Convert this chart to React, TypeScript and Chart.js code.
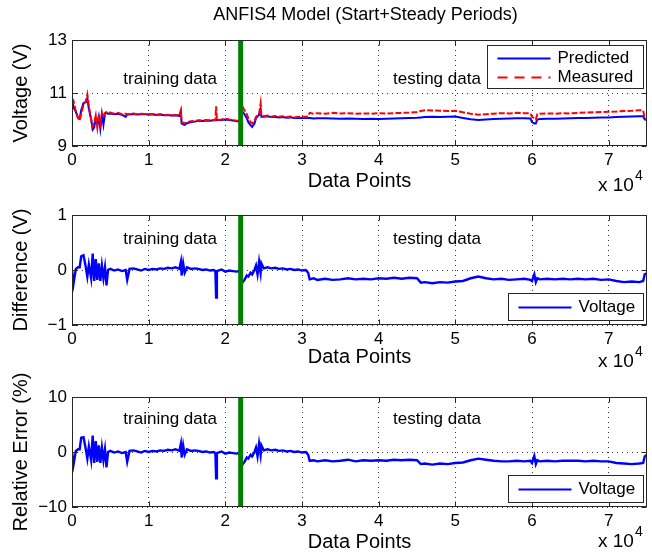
import React, { useEffect, useRef } from 'react';
import { Chart, registerables } from 'chart.js';

Chart.register(...registerables);

const FONT = '"Liberation Sans", Arial, Helvetica, sans-serif';
Chart.defaults.font.family = FONT;
Chart.defaults.color = '#000';

// ---------------- data (x in data points) ----------------
const X_POINTS = [
  0, 200, 500, 800, 1000, 1200, 1500, 1800, 2000, 2200,
  2500, 2700, 2900, 3100, 3300, 3500, 3700, 3900, 4100, 4300,
  4500, 4700, 5000, 5500, 6000, 6500, 7000, 7200, 7500, 8000,
  8500, 9000, 9500, 10000, 10500, 11000, 11500, 12000, 12500, 13000,
  13500, 14000, 14200, 14300, 14500, 14700, 15000, 15500, 16000, 16500,
  17000, 17500, 18000, 18500, 18700, 18800, 18900, 19500, 20000, 20500,
  21000, 21500, 21900,
  22100, 22500, 22800, 23000, 23300, 23500, 23800, 24000, 24200, 24400,
  24600, 24700, 25000, 25500, 26000, 26500, 27000, 27500, 28000, 28500,
  29000, 29500, 30000, 30500, 30800, 31000, 31500, 32000, 33000, 34000,
  35000, 36000, 37000, 38000, 39000, 40000, 41000, 42000, 43000, 44000,
  45000, 45500, 46000, 47000, 48000, 49000, 50000, 51000, 52000, 53000,
  54000, 55000, 56000, 57000, 58000, 59000, 59800, 60000, 60300, 60500,
  60700, 61000, 62000, 63000, 64000, 65000, 66000, 67000, 68000, 69000,
  70000, 71000, 72000, 73000, 74000, 74500, 74700, 75000,
];

const MEASURED_V = [
  10.80, 10.70, 10.30, 10.05, 9.98, 10.20, 10.55, 10.70, 10.95, 10.50,
  10.00, 9.75, 9.90, 10.15, 9.70, 10.20, 9.85, 10.25, 10.10, 10.25,
  10.28, 10.25, 10.26, 10.22, 10.25, 10.20, 10.22, 10.20, 10.21, 10.23,
  10.20, 10.22, 10.21, 10.20, 10.21, 10.18, 10.20, 10.17, 10.18, 10.16,
  10.17, 10.15, 10.35, 9.90, 9.88, 9.85, 9.90, 9.93, 9.95, 9.97,
  9.96, 9.98, 9.97, 9.98, 9.98, 10.50, 9.98, 10.00, 10.03, 10.00,
  9.98, 9.95, 9.95,
  10.55, 10.35, 10.20, 10.05, 9.90, 9.85, 9.95, 10.10, 10.15, 10.20,
  10.60, 10.15, 10.12, 10.15, 10.10, 10.13, 10.10, 10.12, 10.09, 10.11,
  10.08, 10.10, 10.09, 10.10, 10.12, 10.25, 10.22, 10.24, 10.22, 10.25,
  10.23, 10.24, 10.22, 10.23, 10.22, 10.24, 10.22, 10.24, 10.25, 10.26,
  10.28, 10.32, 10.35, 10.34, 10.33, 10.32, 10.33, 10.27, 10.22, 10.18,
  10.20, 10.22, 10.24, 10.23, 10.25, 10.24, 10.23, 10.10, 10.05, 10.00,
  10.20, 10.22, 10.23, 10.22, 10.24, 10.23, 10.25, 10.26, 10.27, 10.28,
  10.29, 10.30, 10.32, 10.33, 10.35, 10.34, 10.05, 10.00,
];

const PREDICTED_V = [
  10.80, 10.45, 10.30, 10.05, 10.02, 10.35, 10.62, 10.65, 10.80, 10.40,
  10.00, 9.62, 9.70, 10.05, 9.80, 10.10, 9.65, 10.20, 9.80, 10.22,
  10.25, 10.22, 10.23, 10.20, 10.22, 10.18, 10.10, 10.20, 10.19, 10.21,
  10.19, 10.20, 10.20, 10.19, 10.20, 10.17, 10.19, 10.16, 10.17, 10.15,
  10.16, 10.14, 10.30, 9.85, 9.82, 9.80, 9.86, 9.90, 9.92, 9.95,
  9.94, 9.96, 9.95, 9.97, 9.97, 9.99, 9.98, 9.98, 10.00, 9.98,
  9.96, 9.93, 9.92,
  10.35, 10.20, 10.05, 9.90, 9.78, 9.72, 9.85, 10.05, 10.12, 10.18,
  10.40, 10.10, 10.10, 10.12, 10.09, 10.10, 10.08, 10.09, 10.07, 10.08,
  10.06, 10.07, 10.06, 10.07, 10.06, 10.06, 10.04, 10.05, 10.05, 10.04,
  10.03, 10.04, 10.03, 10.02, 10.03, 10.02, 10.03, 10.04, 10.05, 10.06,
  10.07, 10.08, 10.09, 10.10, 10.09, 10.10, 10.11, 10.06, 10.01, 9.98,
  10.00, 10.02, 10.03, 10.04, 10.05, 10.05, 10.04, 9.90, 9.85, 9.85,
  10.00, 10.02, 10.03, 10.03, 10.04, 10.05, 10.06, 10.06, 10.07, 10.08,
  10.08, 10.09, 10.10, 10.11, 10.12, 10.12, 10.00, 9.98,
];

const DIFFERENCE_V = [
  0.00, -0.25, 0.02, 0.05, 0.05, 0.25, 0.27, 0.05, -0.12, 0.10,
  -0.15, 0.30, -0.20, 0.20, -0.18, 0.12, -0.20, 0.08, -0.15, 0.05,
  -0.28, 0.00, 0.02, -0.01, 0.01, -0.02, 0.00, -0.18, 0.02, 0.03,
  0.01, -0.01, 0.02, 0.00, 0.02, 0.01, 0.03, 0.02, 0.04, 0.03,
  0.05, 0.02, 0.15, -0.10, 0.12, -0.05, 0.05, 0.02, 0.03, 0.02,
  0.00, 0.01, -0.01, 0.00, -0.02, -0.50, -0.02, 0.01, -0.03, -0.01,
  -0.02, -0.03, -0.02,
  -0.25, -0.18, -0.10, -0.12, -0.05, -0.08, 0.00, 0.08, -0.08, 0.15,
  -0.05, 0.12, 0.03, 0.05, 0.03, 0.04, 0.02, 0.03, 0.01, 0.02,
  0.00, 0.01, -0.01, 0.00, -0.05, -0.17, -0.15, -0.18, -0.16, -0.18,
  -0.17, -0.15, -0.17, -0.16, -0.17, -0.15, -0.16, -0.14, -0.16, -0.14,
  -0.15, -0.23, -0.22, -0.24, -0.22, -0.23, -0.21, -0.20, -0.15, -0.12,
  -0.15, -0.17, -0.16, -0.18, -0.17, -0.16, -0.18, -0.20, -0.08, -0.22,
  -0.15, -0.17, -0.16, -0.17, -0.16, -0.17, -0.16, -0.17, -0.16, -0.18,
  -0.17, -0.20, -0.22, -0.21, -0.22, -0.20, -0.08, -0.06,
];

const RELATIVE_ERROR_PCT = [
  0.0, -2.3, 0.2, 0.5, 0.5, 2.6, 2.7, 0.5, -1.2, 1.0,
  -1.5, 3.0, -2.0, 2.0, -1.8, 1.2, -2.0, 0.8, -1.5, 0.5,
  -2.8, 0.0, 0.2, -0.1, 0.1, -0.2, 0.0, -1.8, 0.2, 0.3,
  0.1, -0.1, 0.2, 0.0, 0.2, 0.1, 0.3, 0.2, 0.4, 0.3,
  0.5, 0.2, 1.5, -1.0, 1.2, -0.5, 0.5, 0.2, 0.3, 0.2,
  0.0, 0.1, -0.1, 0.0, -0.2, -4.8, -0.2, 0.1, -0.3, -0.1,
  -0.2, -0.3, -0.2,
  -2.5, -1.8, -1.0, -1.2, -0.5, -0.8, 0.0, 0.8, -0.8, 1.5,
  -0.5, 1.2, 0.3, 0.5, 0.3, 0.4, 0.2, 0.3, 0.1, 0.2,
  0.0, 0.1, -0.1, 0.0, -0.5, -1.6, -1.5, -1.7, -1.5, -1.7,
  -1.6, -1.4, -1.7, -1.5, -1.6, -1.5, -1.6, -1.4, -1.5, -1.4,
  -1.5, -2.2, -2.1, -2.3, -2.1, -2.2, -2.0, -1.9, -1.5, -1.2,
  -1.4, -1.6, -1.7, -1.7, -1.6, -1.7, -1.6, -2.0, -0.7, -2.2,
  -1.5, -1.7, -1.6, -1.7, -1.6, -1.6, -1.6, -1.7, -1.6, -1.7,
  -1.7, -2.0, -2.1, -2.2, -2.1, -2.0, -0.8, -0.5,
];

const SPLIT_POINT = 22000; // end of training data
const X_MAX = 75000;
const X_TICKS = [0, 10000, 20000, 30000, 40000, 50000, 60000, 70000];
const X_SCALE = 10000;
const X_EXPONENT = '4';
const TITLE = 'ANFIS4 Model (Start+Steady Periods)';
const X_LABEL = 'Data Points';
const TRAIN_LABEL = 'training data';
const TEST_LABEL = 'testing data';

const BLUE = '#0000ff';
const RED = '#ff0000';
const GREEN = '#008000';

type LegendItem = { label: string; color: string; dash: number[] };
type Panel = {
  key: string;
  yMin: number; yMax: number; yStep: number; yTitle: string;
  series: { label: string; values: number[]; color: string; dash: number[]; width: number }[];
  legend: LegendItem[];
  padTop: number; padBottom: number; xHeight: number;
  annY: number; expOffset: number; title?: string;
  legendBox: { insetRight: number; width: number; height: number; top?: number; bottom?: number; rows: number[] };
};

const PANELS: Panel[] = [
  {
    key: 'v', yMin: 9, yMax: 13, yStep: 2, yTitle: 'Voltage (V)',
    series: [
      { label: 'Measured', values: MEASURED_V, color: RED, dash: [6, 2], width: 2 },
      { label: 'Predicted', values: PREDICTED_V, color: BLUE, dash: [], width: 2 },
    ],
    legend: [
      { label: 'Predicted', color: BLUE, dash: [] },
      { label: 'Measured', color: RED, dash: [10, 7] },
    ],
    padTop: 40, padBottom: 361.5, xHeight: 45.5, annY: 11.5, expOffset: 40, title: TITLE,
    legendBox: { insetRight: 4, width: 156, height: 43, top: 5, rows: [13, 32] },
  },
  {
    key: 'd', yMin: -1, yMax: 1, yStep: 1, yTitle: 'Difference (V)',
    series: [{ label: 'Voltage', values: DIFFERENCE_V, color: BLUE, dash: [], width: 2.4 }],
    legend: [{ label: 'Voltage', color: BLUE, dash: [] }],
    padTop: 215, padBottom: 185.5, xHeight: 42.5, annY: 0.55, expOffset: 37,
    legendBox: { insetRight: 4, width: 135, height: 27, bottom: 5, rows: [14] },
  },
  {
    key: 'r', yMin: -10, yMax: 10, yStep: 10, yTitle: 'Relative Error (%)',
    series: [{ label: 'Voltage', values: RELATIVE_ERROR_PCT, color: BLUE, dash: [], width: 2.4 }],
    legend: [{ label: 'Voltage', color: BLUE, dash: [] }],
    padTop: 397, padBottom: 0.5, xHeight: 45.5, annY: 6, expOffset: 35,
    legendBox: { insetRight: 4, width: 135, height: 27, bottom: 5, rows: [14] },
  },
];

const fmt = (v: number) => (v < 0 ? '\u2212' + Math.abs(v) : String(v));

function decorPlugin(p: Panel) {
  return {
    id: 'decor_' + p.key,
    afterDraw(chart: any) {
      const { ctx, chartArea: a, scales } = chart;
      const x = scales.x;
      const y = scales.y;
      ctx.save();
      ctx.setLineDash([]);
      // box
      ctx.strokeStyle = '#262626';
      ctx.lineWidth = 1;
      const L = Math.round(a.left) + 0.5, R = Math.round(a.right) - 0.5;
      const T = Math.round(a.top) + 0.5, B = Math.round(a.bottom) - 0.5;
      ctx.strokeRect(L, T, R - L, B - T);
      // inward ticks
      ctx.beginPath();
      X_TICKS.forEach((v) => {
        const px = Math.round(x.getPixelForValue(v)) + 0.5;
        ctx.moveTo(px, B); ctx.lineTo(px, B - 5);
        ctx.moveTo(px, T); ctx.lineTo(px, T + 5);
      });
      for (let v = p.yMin; v <= p.yMax; v += p.yStep) {
        const py = Math.round(y.getPixelForValue(v)) + 0.5;
        ctx.moveTo(L, py); ctx.lineTo(L + 5, py);
        ctx.moveTo(R, py); ctx.lineTo(R - 5, py);
      }
      ctx.stroke();
      // annotations
      ctx.fillStyle = '#000';
      ctx.font = `17px ${FONT}`;
      ctx.textAlign = 'center';
      ctx.textBaseline = 'middle';
      ctx.fillText(TRAIN_LABEL, x.getPixelForValue(12800), y.getPixelForValue(p.annY));
      ctx.fillText(TEST_LABEL, x.getPixelForValue(47600), y.getPixelForValue(p.annY));
      // legend
      const lb = p.legendBox;
      const lw = lb.width, lh = lb.height;
      const lx = Math.round(a.right - lb.insetRight - lw) + 0.5;
      const ly = Math.round(lb.top !== undefined ? a.top + lb.top : a.bottom - (lb.bottom || 0) - lh) + 0.5;
      ctx.fillStyle = '#fff';
      ctx.fillRect(lx, ly, lw, lh);
      ctx.strokeStyle = '#262626';
      ctx.lineWidth = 1;
      ctx.strokeRect(lx, ly, lw, lh);
      p.legend.forEach((it, i) => {
        const yy = ly + lb.rows[i];
        ctx.strokeStyle = it.color;
        ctx.lineWidth = 1.8;
        ctx.setLineDash(it.dash);
        ctx.beginPath();
        ctx.moveTo(lx + 10, yy);
        ctx.lineTo(lx + 63, yy);
        ctx.stroke();
        ctx.setLineDash([]);
        ctx.fillStyle = '#000';
        ctx.font = `17px ${FONT}`;
        ctx.textAlign = 'left';
        ctx.fillText(it.label, lx + 70, yy);
      });
      // x 10^4
      ctx.fillStyle = '#000';
      ctx.textAlign = 'left';
      ctx.font = `19px ${FONT}`;
      const ex = a.right - 49;
      const ey = a.bottom + p.expOffset;
      ctx.fillText('x 10', ex, ey);
      const w = ctx.measureText('x 10').width;
      ctx.font = `14px ${FONT}`;
      ctx.fillText(X_EXPONENT, ex + w + 1, ey - 10);
      // title
      if (p.title) {
        ctx.font = `18px ${FONT}`;
        ctx.textAlign = 'center';
        ctx.fillText(p.title, (a.left + a.right) / 2 + 6, 15);
      }
      ctx.restore();
    },
  };
}

function buildConfig(p: Panel): any {
  const toXY = (vals: number[]) => X_POINTS.map((xv, i) => ({ x: xv, y: vals[i] }));
  const datasets: any[] = [
    {
      label: 'split',
      data: [{ x: SPLIT_POINT, y: p.yMin }, { x: SPLIT_POINT, y: p.yMax }],
      borderColor: GREEN, borderWidth: 5, pointRadius: 0,
    },
    ...p.series.map((s) => ({
      label: s.label,
      data: toXY(s.values),
      borderColor: s.color,
      borderWidth: s.width,
      borderDash: s.dash,
      pointRadius: 0,
      tension: 0,
      fill: false,
    })),
  ];
  return {
    type: 'line',
    data: { datasets },
    options: {
      responsive: false,
      animation: false,
      events: [],
      layout: { padding: { left: 9, right: 5, top: p.padTop, bottom: p.padBottom } },
      plugins: { legend: { display: false }, tooltip: { enabled: false }, title: { display: false } },
      scales: {
        x: {
          type: 'linear', min: 0, max: X_MAX,
          afterBuildTicks: (s: any) => { s.ticks = X_TICKS.map((v) => ({ value: v })); },
          ticks: {
            autoSkip: false, maxRotation: 0,
            padding: 4, font: { size: 17 }, color: '#000',
            callback: (v: number) => String(v / X_SCALE),
          },
          grid: { color: '#333', lineWidth: 1, drawTicks: false },
          border: { display: false, dash: [1, 4] },
          title: { display: true, text: X_LABEL, font: { size: 20, lineHeight: 1 }, padding: 0, color: '#000' },
          afterFit: (s: any) => { s.height = p.xHeight; },
        },
        y: {
          type: 'linear', min: p.yMin, max: p.yMax,
          ticks: { stepSize: p.yStep, padding: 5, font: { size: 17 }, color: '#000', callback: (v: number) => fmt(v) },
          grid: { color: '#333', lineWidth: 1, drawTicks: false },
          border: { display: false, dash: [1, 4] },
          title: { display: true, text: p.yTitle, font: { size: 20, lineHeight: 1.2 }, padding: 0, color: '#000' },
          afterFit: (s: any) => { s.width = 63; },
        },
      },
    },
    plugins: [decorPlugin(p)],
  };
}

export default function App() {
  const r0 = useRef<HTMLCanvasElement>(null);
  const r1 = useRef<HTMLCanvasElement>(null);
  const r2 = useRef<HTMLCanvasElement>(null);
  const refs = [r0, r1, r2];
  useEffect(() => {
    const charts = PANELS.map((p, i) => new Chart(refs[i].current as HTMLCanvasElement, buildConfig(p)));
    return () => charts.forEach((c) => c.destroy());
  }, []);
  return (
    <div style={{ position: 'fixed', left: 0, top: 0, width: 652, height: 553, background: '#fff' }}>
      {refs.map((r, i) => (
        <canvas
          key={i}
          ref={r}
          width={652}
          height={553}
          style={{ position: 'absolute', left: 0, top: 0, width: 652, height: 553 }}
        />
      ))}
    </div>
  );
}
